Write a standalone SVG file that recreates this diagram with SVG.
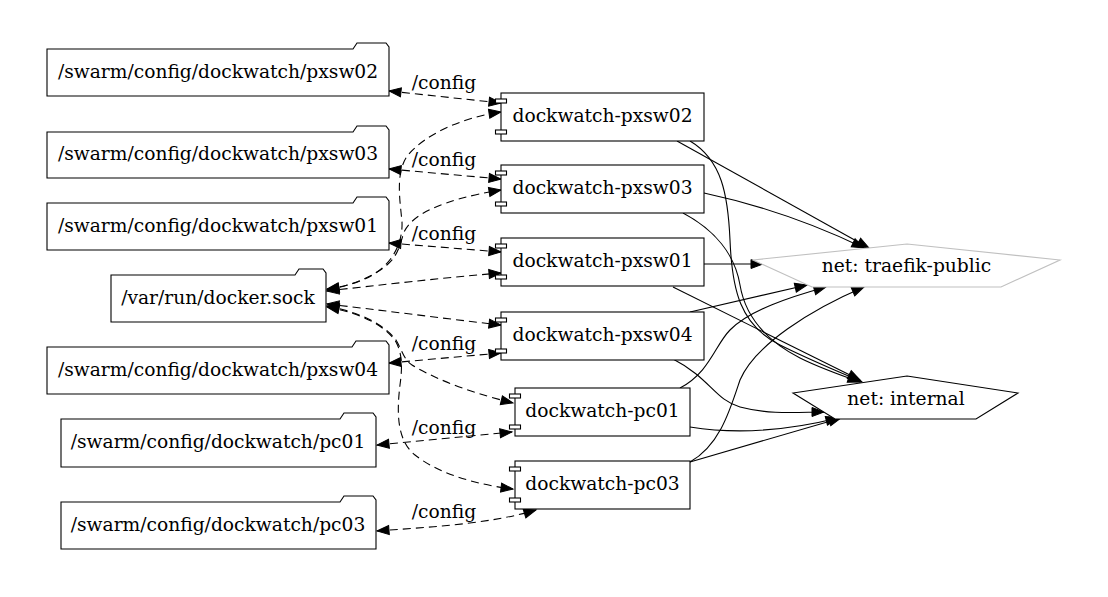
<svg xmlns="http://www.w3.org/2000/svg" width="1108" height="597" viewBox="0 0 1108 597">
<style>
text{font-family:"DejaVu Serif","Liberation Serif",serif;font-size:18.67px;fill:#000;text-anchor:middle}
.f{fill:#fff;stroke:#000;stroke-width:1.1}
.c{fill:#fff;stroke:#000;stroke-width:1.1}
.e{fill:none;stroke:#000;stroke-width:1.1}
.d{fill:none;stroke:#000;stroke-width:1.1;stroke-dasharray:8,5;marker-start:url(#a);marker-end:url(#a)}
.s{marker-end:url(#a)}
</style>
<defs>
<marker id="a" markerUnits="userSpaceOnUse" markerWidth="14" markerHeight="12" refX="12" refY="4.5" orient="auto-start-reverse" overflow="visible">
<path d="M0,0 L12,4.5 L0,9 Z" fill="#000" stroke="#000" stroke-width="1"/>
</marker>
</defs>
<rect width="1108" height="597" fill="#fff"/>
<g id="edges">
<path class="d" d="M389,91 L501,103"/>
<path class="d" d="M327,289 C340,287 350,285 360,281 C390,270 403,245 402,222 C400,200 395,172 408,155 C425,135 460,118 501,112"/>
<path class="d" d="M389,169 L501,179"/>
<path class="d" d="M327,290 C350,286 375,276 388,264 C398,255 400,245 404,232 C412,215 440,200 501,190"/>
<path class="d" d="M389,243 L501,252"/>
<path class="d" d="M327,291 C380,285 440,278 501,273"/>
<path class="d" d="M327,304 C380,310 440,318 501,325"/>
<path class="d" d="M389,363 L501,353"/>
<path class="d" d="M327,306 C360,312 385,325 396,340 C402,350 404,360 412,365 C440,382 480,395 513,403"/>
<path class="d" d="M377,445 L512,432"/>
<path class="d" d="M327,307 C360,313 385,325 396,342 C403,355 402,370 400,385 C397,410 396,440 415,455 C440,475 480,485 513,489"/>
<path class="d" d="M377,531 C430,527 490,524 536,510"/>
<path class="e s" d="M677,141 L869,248"/>
<path class="e s" d="M704,193 C760,205 810,222 864,248"/>
<path class="e s" d="M704,264 L763,264"/>
<path class="e s" d="M690,141 C722,160 728,195 730,240 C732,290 740,325 780,345 C810,360 835,370 862,382"/>
<path class="e s" d="M683,213 C715,230 735,255 740,285 C745,315 765,340 800,358 C820,368 840,375 860,382"/>
<path class="e s" d="M673,287 L860,380"/>
<path class="e s" d="M690,312 L807,285"/>
<path class="e s" d="M673,359 C710,378 715,400 740,407 C770,415 800,412 824,412"/>
<path class="e s" d="M680,388 C710,372 715,345 730,330 C750,310 790,297 826,287"/>
<path class="e s" d="M690,427 C740,435 790,430 838,418"/>
<path class="e s" d="M690,462 C720,445 730,410 740,380 C755,345 810,310 864,287"/>
<path class="e s" d="M690,462 L841,418"/>
<g>
<text x="444" y="89">/config</text>
<text x="444" y="166">/config</text>
<text x="444" y="240">/config</text>
<text x="444" y="350">/config</text>
<text x="444" y="434">/config</text>
<text x="444" y="518">/config</text>
</g>
</g>
<g id="cfg_pxsw02"><path class="f" d="M47,49 L353,49 L357,43 L386,43 L389,47 L389,96 L47,96 Z"/><text x="218" y="78">/swarm/config/dockwatch/pxsw02</text></g>
<g id="cfg_pxsw03"><path class="f" d="M47,132 L353,132 L357,126 L386,126 L389,130 L389,178 L47,178 Z"/><text x="218" y="160">/swarm/config/dockwatch/pxsw03</text></g>
<g id="cfg_pxsw01"><path class="f" d="M47,203 L353,203 L357,197 L386,197 L389,201 L389,250 L47,250 Z"/><text x="218" y="232">/swarm/config/dockwatch/pxsw01</text></g>
<g id="docker_sock"><path class="f" d="M111,275 L295,275 L299,269 L323,269 L326,273 L326,322 L111,322 Z"/><text x="218" y="304">/var/run/docker.sock</text></g>
<g id="cfg_pxsw04"><path class="f" d="M47,347 L352,347 L356,341 L386,341 L389,345 L389,394 L47,394 Z"/><text x="218" y="376">/swarm/config/dockwatch/pxsw04</text></g>
<g id="cfg_pc01"><path class="f" d="M61,419 L340,419 L344,413 L373,413 L376,417 L376,467 L61,467 Z"/><text x="218" y="448">/swarm/config/dockwatch/pc01</text></g>
<g id="cfg_pc03"><path class="f" d="M61,502 L340,502 L344,496 L373,496 L376,500 L376,549 L61,549 Z"/><text x="218" y="531">/swarm/config/dockwatch/pc03</text></g>
<g id="dw_pxsw02"><rect class="c" x="501" y="93" width="203" height="48"/><rect class="c" x="495.5" y="99" width="11" height="4"/><rect class="c" x="495.5" y="130" width="11" height="4"/><text x="602.5" y="122">dockwatch-pxsw02</text></g>
<g id="dw_pxsw03"><rect class="c" x="501" y="165" width="203" height="48"/><rect class="c" x="495.5" y="171" width="11" height="4"/><rect class="c" x="495.5" y="202" width="11" height="4"/><text x="602.5" y="194">dockwatch-pxsw03</text></g>
<g id="dw_pxsw01"><rect class="c" x="501" y="238" width="203" height="48"/><rect class="c" x="495.5" y="244" width="11" height="4"/><rect class="c" x="495.5" y="275" width="11" height="4"/><text x="602.5" y="267">dockwatch-pxsw01</text></g>
<g id="dw_pxsw04"><rect class="c" x="501" y="312" width="203" height="48"/><rect class="c" x="495.5" y="318" width="11" height="4"/><rect class="c" x="495.5" y="349" width="11" height="4"/><text x="602.5" y="341">dockwatch-pxsw04</text></g>
<g id="dw_pc01"><rect class="c" x="515" y="388" width="175" height="48"/><rect class="c" x="509.5" y="394" width="11" height="4"/><rect class="c" x="509.5" y="425" width="11" height="4"/><text x="602.5" y="417">dockwatch-pc01</text></g>
<g id="dw_pc03"><rect class="c" x="515" y="461" width="175" height="48"/><rect class="c" x="509.5" y="467" width="11" height="4"/><rect class="c" x="509.5" y="498" width="11" height="4"/><text x="602.5" y="490">dockwatch-pc03</text></g>
<g id="net_traefik"><path d="M907,244 L1060,260 L1001,287 L812,287 L753,260 Z" fill="#fff" stroke="#c0c0c0" stroke-width="1.1"/><text x="906.5" y="272">net: traefik-public</text></g>
<g id="net_internal"><path d="M907,376 L1018,393 L976,419 L835,419 L793,393 Z" fill="#fff" stroke="#000" stroke-width="1.1"/><text x="906" y="405">net: internal</text></g>
</svg>
